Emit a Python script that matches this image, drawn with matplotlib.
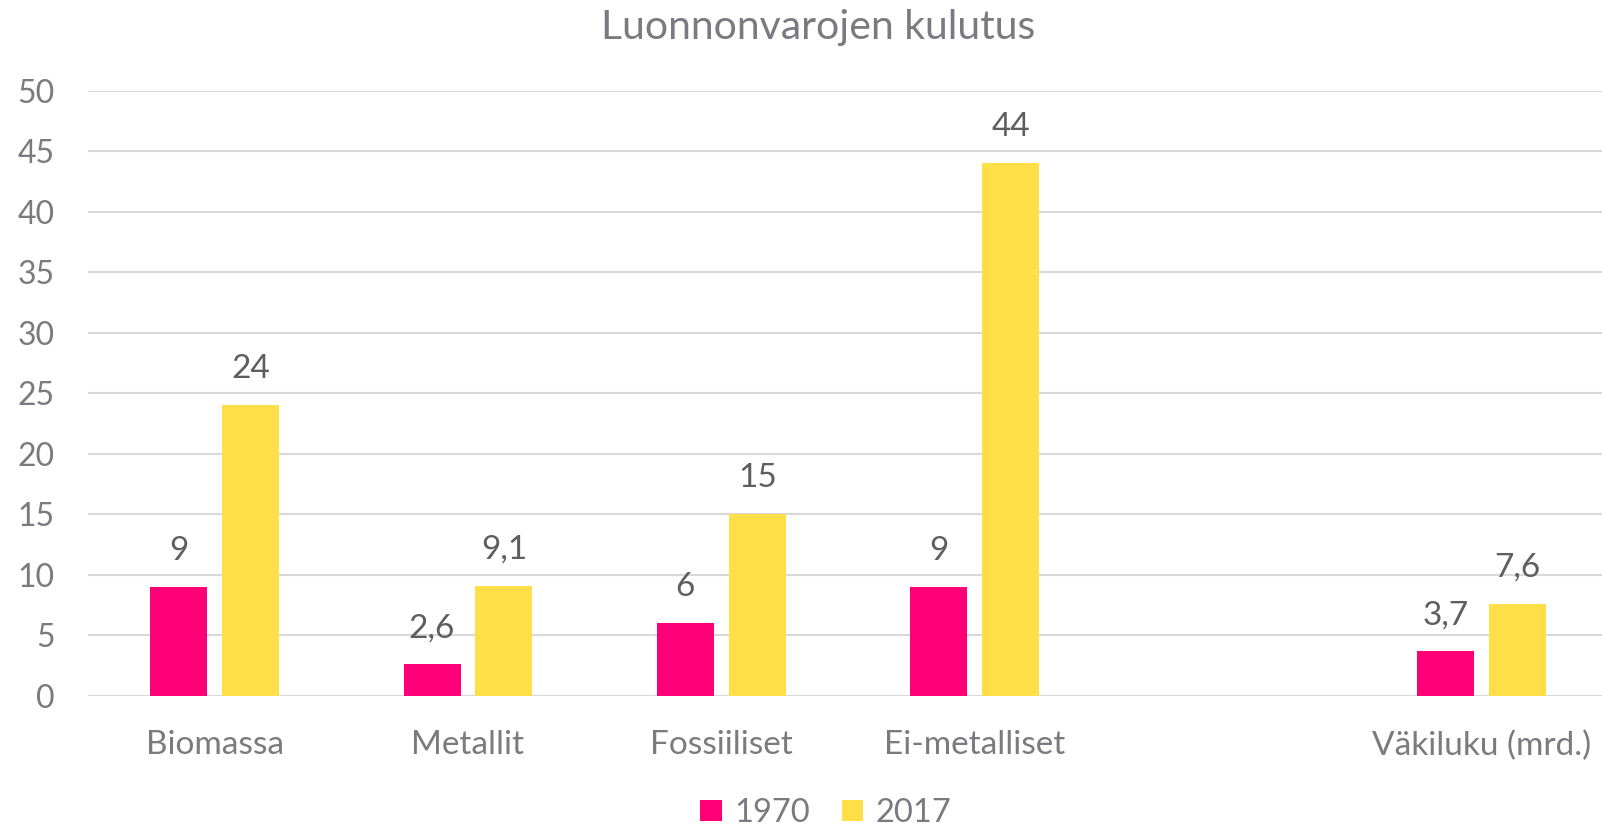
import numpy as np
import matplotlib
matplotlib.use('Agg')
import matplotlib.pyplot as plt

plt.rcParams['font.family'] = ['Lato', 'DejaVu Sans']

# data (empty slot between Ei-metalliset and Väkiluku)
categories = ['Biomassa', 'Metallit', 'Fossiiliset', 'Ei-metalliset', '', 'Väkiluku (mrd.)']
values_1970 = [9, 2.6, 6, 9, np.nan, 3.7]
values_2017 = [24, 9.1, 15, 44, np.nan, 7.6]
series_names = ['1970', '2017']
colors = ['#FF0078', '#FFDF47']

text_grey = '#7A7A80'
label_grey = '#5E5E62'

fig = plt.figure(figsize=(16.02, 8.26), dpi=100)
ax = fig.add_axes([88 / 1602, 130.3 / 826, 1520 / 1602, 605 / 826])

x = np.arange(len(categories))
width = 0.225
offset = 0.142

for vals, name, col, sign in zip([values_1970, values_2017], series_names, colors, [-1, 1]):
    ax.bar(x + sign * offset, vals, width, color=col, label=name, zorder=3)
    for xi, v in zip(x + sign * offset, vals):
        if np.isnan(v):
            continue
        txt = f'{v:g}'.replace('.', ',')
        ax.annotate(txt, (xi, v), xytext=(0, 15), textcoords='offset points',
                    ha='center', va='bottom', fontsize=24, color=label_grey)

ax.set_xlim(-0.5, len(categories) - 0.5)
ax.set_ylim(0, 50)
ax.set_yticks(range(0, 51, 5))
ax.set_xticks(x)
ax.set_xticklabels(categories)
ax.tick_params(axis='y', length=0, pad=24, labelsize=23, labelcolor=text_grey)
ax.tick_params(axis='x', length=0, pad=25, labelsize=24, labelcolor=text_grey)
ax.grid(axis='y', color='#D9D9D9', linewidth=1.5, zorder=0)
for s in ax.spines.values():
    s.set_visible(False)

fig.text(818 / 1602, 1 - 27 / 826, 'Luonnonvarojen kulutus', ha='center', va='center',
         fontsize=29.5, color=text_grey)

fig.legend(loc='center', bbox_to_anchor=(826 / 1602, 1 - 813 / 826), ncol=2,
           frameon=False, fontsize=23.5, labelcolor=text_grey, handlelength=0.65,
           handleheight=0.65, handletextpad=0.4, columnspacing=0.95)

fig.savefig('out.png', dpi=100)
